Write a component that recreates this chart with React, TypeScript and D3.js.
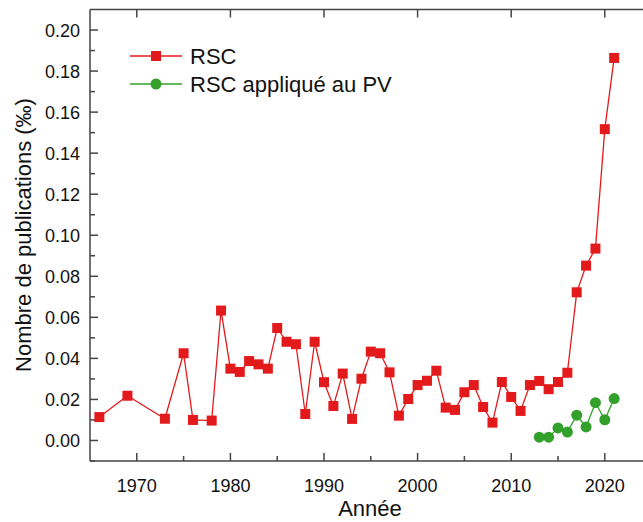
import React from "react";
import * as d3 from "d3";

const rscYears = [1966, 1969, 1973, 1975, 1976, 1978, 1979, 1980, 1981, 1982, 1983, 1984, 1985, 1986, 1987, 1988, 1989, 1990, 1991, 1992, 1993, 1994, 1995, 1996, 1997, 1998, 1999, 2000, 2001, 2002, 2003, 2004, 2005, 2006, 2007, 2008, 2009, 2010, 2011, 2012, 2013, 2014, 2015, 2016, 2017, 2018, 2019, 2020, 2021];
const rscValues = [0.0114, 0.0218, 0.0106, 0.0425, 0.0100, 0.0097, 0.0633, 0.0350, 0.0334, 0.0387, 0.0371, 0.0350, 0.0548, 0.0481, 0.0469, 0.0129, 0.0481, 0.0284, 0.0168, 0.0326, 0.0105, 0.0301, 0.0433, 0.0425, 0.0332, 0.0121, 0.0202, 0.0270, 0.0291, 0.0340, 0.0160, 0.0149, 0.0235, 0.0270, 0.0163, 0.0087, 0.0285, 0.0212, 0.0144, 0.0270, 0.0290, 0.0250, 0.0285, 0.0330, 0.0722, 0.0852, 0.0935, 0.1517, 0.1864];
const pvYears = [2013, 2014, 2015, 2016, 2017, 2018, 2019, 2020, 2021];
const pvValues = [0.0016, 0.0016, 0.0061, 0.0041, 0.0123, 0.0066, 0.0184, 0.0101, 0.0204];
const xTicks = [1970, 1980, 1990, 2000, 2010, 2020];
const xMinorTicks = [1975, 1985, 1995, 2005, 2015];
const yTicks = [0, 0.02, 0.04, 0.06, 0.08, 0.1, 0.12, 0.14, 0.16, 0.18, 0.2];
const yMinorTicks = [-0.01, 0.01, 0.03, 0.05, 0.07, 0.09, 0.11, 0.13, 0.15, 0.17, 0.19];
const seriesNames = ["RSC", "RSC appliqué au PV"];

const RED = "#e31a1c";
const GREEN = "#33a02c";
const AXIS = "#444";
const FONT = "'Liberation Sans', Arial, sans-serif";

export default function App() {
  const W = 643, H = 522;
  const x = d3.scaleLinear().domain([1965, 2025]).range([90, 651.6]);
  const y = d3.scaleLinear().domain([-0.01, 0.21]).range([461, 9.5]);
  const line = d3.line<[number, number]>().x(d => x(d[0])).y(d => y(d[1]));
  const rsc: [number, number][] = rscYears.map((yr, i) => [yr, rscValues[i]]);
  const pv: [number, number][] = pvYears.map((yr, i) => [yr, pvValues[i]]);
  const left = x.range()[0], right = x.range()[1];
  const top = y.range()[1], bottom = y.range()[0];
  const sq = 10;
  return (
    <svg width={W} height={H} style={{ position: "absolute", left: 0, top: 0, background: "#fff" }} fontFamily={FONT}>
      <rect x={0} y={0} width={W} height={H} fill="#fff" />
      {/* frame */}
      <line x1={left} x2={right} y1={bottom} y2={bottom} stroke={AXIS} strokeWidth={1.5} />
      <line x1={left} x2={right} y1={top} y2={top} stroke={AXIS} strokeWidth={1.5} />
      <line x1={left} x2={left} y1={top} y2={bottom} stroke={AXIS} strokeWidth={1.5} />
      {/* x ticks */}
      {xTicks.map(t => (
        <g key={"xt" + t}>
          <line x1={x(t)} x2={x(t)} y1={bottom} y2={bottom - 8} stroke={AXIS} strokeWidth={1.5} />
          <line x1={x(t)} x2={x(t)} y1={top} y2={top + 8} stroke={AXIS} strokeWidth={1.5} />
          <text x={x(t)} y={bottom + 31} textAnchor="middle" fontSize={18} fill="#111">{t}</text>
        </g>
      ))}
      {xMinorTicks.map(t => (
        <line key={"xm" + t} x1={x(t)} x2={x(t)} y1={bottom} y2={bottom - 5} stroke={AXIS} strokeWidth={1.5} />
      ))}
      {/* y ticks */}
      {yTicks.map(t => (
        <g key={"yt" + t}>
          <line x1={left} x2={left + 8} y1={y(t)} y2={y(t)} stroke={AXIS} strokeWidth={1.5} />
          <text x={left - 10} y={y(t) + 6.5} textAnchor="end" fontSize={18} fill="#111">{t.toFixed(2)}</text>
        </g>
      ))}
      {yMinorTicks.map(t => (
        <line key={"ym" + t} x1={left} x2={left + 5} y1={y(t)} y2={y(t)} stroke={AXIS} strokeWidth={1.5} />
      ))}
      {/* series */}
      <path d={line(rsc) || ""} fill="none" stroke={RED} strokeWidth={1.3} />
      {rsc.map((d, i) => (
        <rect key={"r" + i} x={x(d[0]) - sq / 2} y={y(d[1]) - sq / 2} width={sq} height={sq} fill={RED} />
      ))}
      <path d={line(pv) || ""} fill="none" stroke={GREEN} strokeWidth={1.3} />
      {pv.map((d, i) => (
        <circle key={"g" + i} cx={x(d[0])} cy={y(d[1])} r={5.5} fill={GREEN} />
      ))}
      {/* legend */}
      <g>
        <line x1={130} x2={182} y1={56} y2={56} stroke={RED} strokeWidth={1.3} />
        <rect x={156 - sq / 2} y={56 - sq / 2} width={sq} height={sq} fill={RED} />
        <text x={190} y={64} fontSize={22} fill="#111">{seriesNames[0]}</text>
        <line x1={130} x2={182} y1={84} y2={84} stroke={GREEN} strokeWidth={1.3} />
        <circle cx={156} cy={84} r={5.5} fill={GREEN} />
        <text x={190} y={92} fontSize={22} fill="#111">{seriesNames[1]}</text>
      </g>
      {/* axis titles */}
      <text x={370} y={516} textAnchor="middle" fontSize={22} fill="#111">Année</text>
      <text transform={`translate(31, 235) rotate(-90)`} textAnchor="middle" fontSize={22} fill="#111">Nombre de publications (‰)</text>
    </svg>
  );
}
